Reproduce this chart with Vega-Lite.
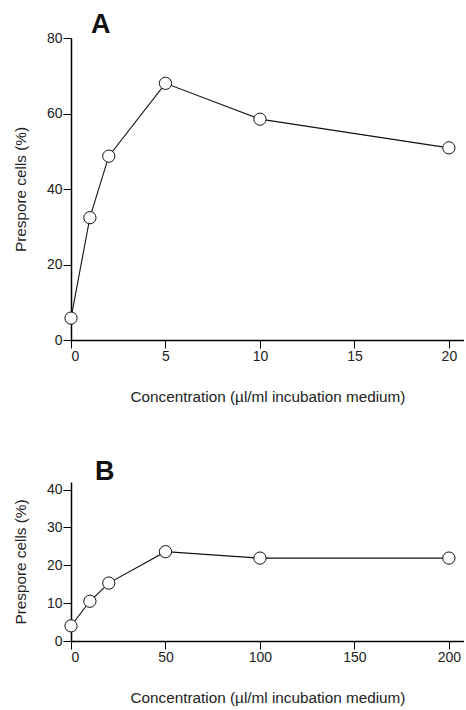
{
  "$schema": "https://vega.github.io/schema/vega-lite/v6.json",
  "background": "white",
  "padding": {"left": 13, "top": 11, "right": 0, "bottom": 4},
  "datasets": {
    "panelA": [
      {"conc": 0, "prespore": 5.8},
      {"conc": 1, "prespore": 32.4},
      {"conc": 2, "prespore": 48.7},
      {"conc": 5, "prespore": 68.0},
      {"conc": 10, "prespore": 58.5},
      {"conc": 20, "prespore": 50.9}
    ],
    "panelB": [
      {"conc": 0, "prespore": 4.0},
      {"conc": 10, "prespore": 10.5},
      {"conc": 20, "prespore": 15.3},
      {"conc": 50, "prespore": 23.6},
      {"conc": 100, "prespore": 21.9},
      {"conc": 200, "prespore": 21.9}
    ]
  },
  "config": {
    "font": "Liberation Sans",
    "view": {"stroke": null},
    "axis": {
      "grid": false,
      "domainColor": "#000",
      "domainWidth": 1.5,
      "tickColor": "#000",
      "tickWidth": 1,
      "tickSize": 8,
      "labelFont": "Liberation Sans",
      "labelFontSize": 14,
      "labelColor": "#222",
      "labelPadding": 1,
      "titleFont": "Liberation Sans",
      "titleFontSize": 15.3,
      "titleFontWeight": "normal",
      "titleColor": "#222"
    },
    "title": {"font": "Liberation Sans", "fontSize": 27, "fontWeight": "bold", "color": "#111", "anchor": "start", "frame": "group"},
    "concat": {"spacing": 53}
  },
  "vconcat": [
    {
      "title": {"text": "A", "dx": 20, "offset": -8},
      "width": 393,
      "height": 302,
      "data": {"name": "panelA"},
      "encoding": {
        "x": {
          "field": "conc", "type": "quantitative",
          "scale": {"domain": [0, 20.8], "nice": false},
          "axis": {"values": [0, 5, 10, 15, 20], "title": "Concentration (µl/ml incubation medium)", "titlePadding": 26}
        },
        "y": {
          "field": "prespore", "type": "quantitative",
          "scale": {"domain": [0, 80], "nice": false},
          "axis": {"values": [0, 20, 40, 60, 80], "title": "Prespore cells (%)", "titlePadding": 18}
        }
      },
      "layer": [
        {"mark": {"type": "line", "color": "#111", "strokeWidth": 1.1}},
        {"mark": {"type": "point", "shape": "circle", "filled": true, "fill": "white", "stroke": "#111", "strokeWidth": 1, "size": 150, "opacity": 1}}
      ]
    },
    {
      "title": {"text": "B", "dx": 24, "offset": -4},
      "width": 393,
      "height": 159,
      "data": {"name": "panelB"},
      "encoding": {
        "x": {
          "field": "conc", "type": "quantitative",
          "scale": {"domain": [0, 208], "nice": false},
          "axis": {"values": [0, 50, 100, 150, 200], "title": "Concentration (µl/ml incubation medium)", "titlePadding": 26}
        },
        "y": {
          "field": "prespore", "type": "quantitative",
          "scale": {"domain": [0, 42], "nice": false},
          "axis": {"values": [0, 10, 20, 30, 40], "title": "Prespore cells (%)", "titlePadding": 18}
        }
      },
      "layer": [
        {"mark": {"type": "line", "color": "#111", "strokeWidth": 1.1}},
        {"mark": {"type": "point", "shape": "circle", "filled": true, "fill": "white", "stroke": "#111", "strokeWidth": 1, "size": 150, "opacity": 1}}
      ]
    }
  ]
}
